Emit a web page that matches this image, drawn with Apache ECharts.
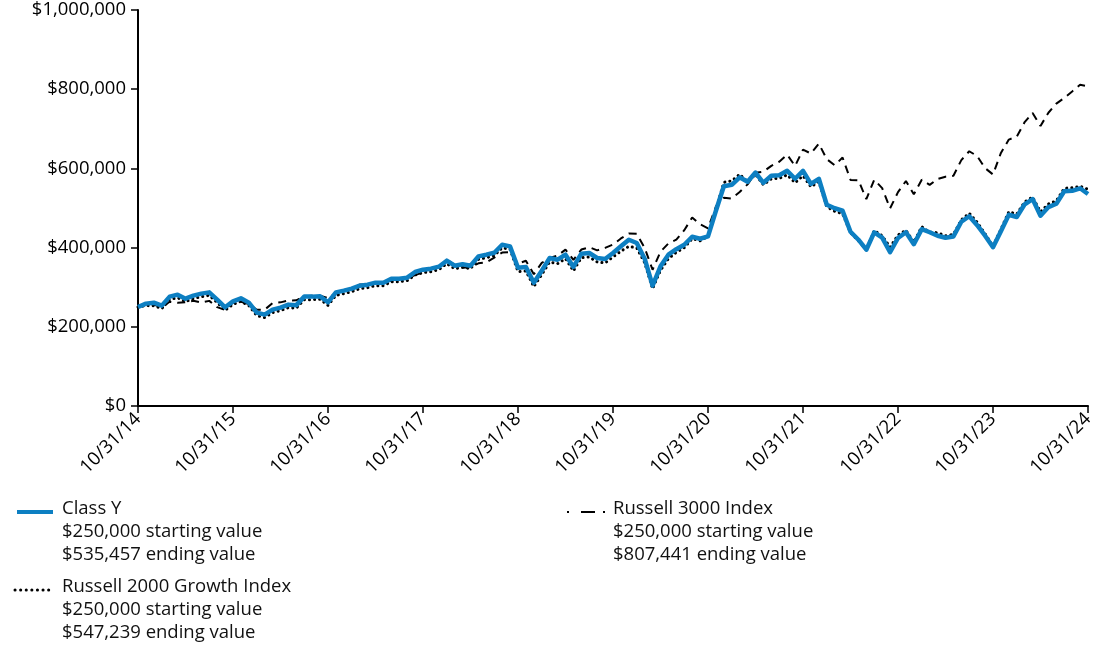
<!DOCTYPE html>
<html>
<head>
<meta charset="utf-8">
<script src="https://cdn.jsdelivr.net/npm/echarts@6/dist/echarts.min.js"></script>
<style>
html,body{margin:0;padding:0;background:#fff;}
#chart{width:1100px;height:653px;}
</style>
</head>
<body>
<div id="chart"></div>
<script>
// Tick labels (one per year, every 12 months)
const tickLabels = ['10/31/14','10/31/15','10/31/16','10/31/17','10/31/18','10/31/19','10/31/20','10/31/21','10/31/22','10/31/23','10/31/24'];

// Monthly values, 10/31/14 .. 10/31/24 (121 points)
const classY = [
250000,258500,261000,253500,276200,281200,271100,278700,283700,287000,268600,249200,
264300,271900,261000,235800,230800,243400,248400,256000,254700,276200,276200,276900,
261800,287000,291300,296300,303900,306400,311500,311500,321600,321600,324100,338500,
344300,346800,351800,367000,354300,358100,354300,377800,382100,387100,407300,403000,
349300,351100,311500,341700,373800,369500,382100,351100,384600,386400,373800,371200,
386400,403500,419900,411600,372000,303900,352600,382100,396000,407300,427500,422400,
428200,493100,554800,558600,577500,566200,589600,563700,581300,582600,593900,573800,
593900,561100,573800,508200,499400,493100,440100,419900,394700,438300,425000,388400,
424200,438800,408600,446400,438800,430000,425000,428200,465300,479200,456500,430000,
401000,441400,483000,477200,509400,522600,480400,502400,510700,542200,543500,549800,
535457];

const russell2000Growth = [
250000,253500,253400,245900,268600,273600,263500,271100,276100,279400,261000,241600,
256700,264300,253400,228200,223200,235800,240800,248400,247100,268600,268600,269300,
254200,279400,283700,288700,296300,298800,303900,303900,314000,314000,316500,330900,
336700,339200,344200,359400,346700,350500,346700,370200,374500,379500,399700,395400,
339200,341000,301400,331600,363700,359400,372000,341000,374500,376300,363700,361100,
376300,390900,403100,399000,361900,295900,342500,372000,388000,399700,422500,417400,
428200,495600,564900,568700,585100,566200,584600,558700,573700,575000,583800,563700,
581300,553500,566200,503200,491800,485500,437600,417400,394700,443300,430000,401000,
431800,443800,413600,452700,438800,437600,430000,433200,470300,486800,464100,435000,
403500,446400,490600,484800,515700,527600,490500,510000,518300,549800,551100,554800,
547239];

const russell3000 = [
250000,256000,256000,248800,263300,260600,261900,265600,261100,265500,249600,242400,
261500,263100,257600,243100,243100,260100,261700,266400,266900,277300,278100,278700,
272600,284800,290200,295700,306700,307000,310100,313200,316000,322000,322700,330400,
337700,347800,351300,369900,356200,349100,350500,360300,362800,374800,387500,388300,
359600,366800,332700,361300,374000,379600,394800,369100,395000,400900,392900,399200,
407600,423100,435300,434900,399200,344100,389500,410500,420000,443900,475900,458800,
448700,503400,526100,524000,540200,559700,588800,591700,606500,616800,634700,606100,
647300,637600,662500,623400,607800,627300,570800,570200,522300,571400,550300,499100,
540000,568100,534600,571500,558300,573400,579100,581400,621000,643300,631100,600800,
584600,639000,672800,680200,717000,739900,707300,740600,763500,778000,794400,811100,
807441];

const seriesNames = ['Class Y', 'Russell 2000 Growth Index', 'Russell 3000 Index'];
const startValues = ['$250,000 starting value', '$250,000 starting value', '$250,000 starting value'];
const endValues = ['$535,457 ending value', '$547,239 ending value', '$807,441 ending value'];

// Category axis: one entry per month; year-end ticks get the tick label
const categories = classY.map((v, i) => (i % 12 === 0 ? tickLabels[i / 12] : 'm' + i));

const FONT = '"Open Sans", "Noto Sans", sans-serif';
const FS = 18.5;
const BLUE = '#0d7fc2';

const chart = echarts.init(document.getElementById('chart'), null, {renderer: 'canvas'});

function legendBlock(x, y, icon, lines) {
  const els = [icon];
  lines.forEach((t, k) => {
    els.push({
      type: 'text', left: x, top: y - 13 + k * 23,
      style: {text: t, font: FS + 'px ' + FONT, fill: '#111'}
    });
  });
  return els;
}

const graphics = [].concat(
  legendBlock(62, 512, {
    type: 'line', shape: {x1: 17, y1: 512, x2: 53, y2: 512},
    style: {stroke: BLUE, lineWidth: 4}
  }, [seriesNames[0], startValues[0], endValues[0]]),
  legendBlock(62, 590, {
    type: 'line', shape: {x1: 15, y1: 590, x2: 53, y2: 590},
    style: {stroke: '#000', lineWidth: 3, lineDash: [0.1, 5.5], lineCap: 'round'}
  }, [seriesNames[1], startValues[1], endValues[1]]),
  legendBlock(613, 512, {
    type: 'line', shape: {x1: 567, y1: 512, x2: 605, y2: 512},
    style: {stroke: '#000', lineWidth: 2, lineDash: [2, 12, 14, 8]}
  }, [seriesNames[2], startValues[2], endValues[2]])
);

chart.setOption({
  animation: false,
  backgroundColor: '#fff',
  grid: {left: 138, right: 12, top: 10, bottom: 247, containLabel: false},
  xAxis: {
    type: 'category',
    data: categories,
    boundaryGap: false,
    axisLine: {show: true, lineStyle: {color: '#000', width: 2}},
    axisTick: {show: true, interval: (i) => i % 12 === 0, length: 7, lineStyle: {color: '#000', width: 1.5}},
    axisLabel: {
      interval: (i) => i % 12 === 0,
      rotate: 45, margin: 10,
      color: '#000', fontSize: FS, fontFamily: FONT
    },
    splitLine: {show: false}
  },
  yAxis: {
    type: 'value', min: 0, max: 1000000, interval: 200000,
    axisLine: {show: true, lineStyle: {color: '#000', width: 2}},
    axisTick: {show: true, length: 7, lineStyle: {color: '#000', width: 1.5}},
    axisLabel: {
      margin: 12, color: '#000', fontSize: FS, fontFamily: FONT,
      formatter: (v) => '$' + v.toLocaleString('en-US')
    },
    splitLine: {show: false}
  },
  series: [
    {
      name: seriesNames[2], type: 'line', data: russell3000, symbol: 'none', z: 2,
      lineStyle: {color: '#000', width: 2, type: [8, 6]}
    },
    {
      name: seriesNames[1], type: 'line', data: russell2000Growth, symbol: 'none', z: 3,
      lineStyle: {color: '#000', width: 3, type: [0.1, 5], cap: 'round'}
    },
    {
      name: seriesNames[0], type: 'line', data: classY, symbol: 'none', z: 4,
      lineStyle: {color: BLUE, width: 4.5, join: 'round'}
    }
  ],
  graphic: graphics
});
</script>
</body>
</html>
